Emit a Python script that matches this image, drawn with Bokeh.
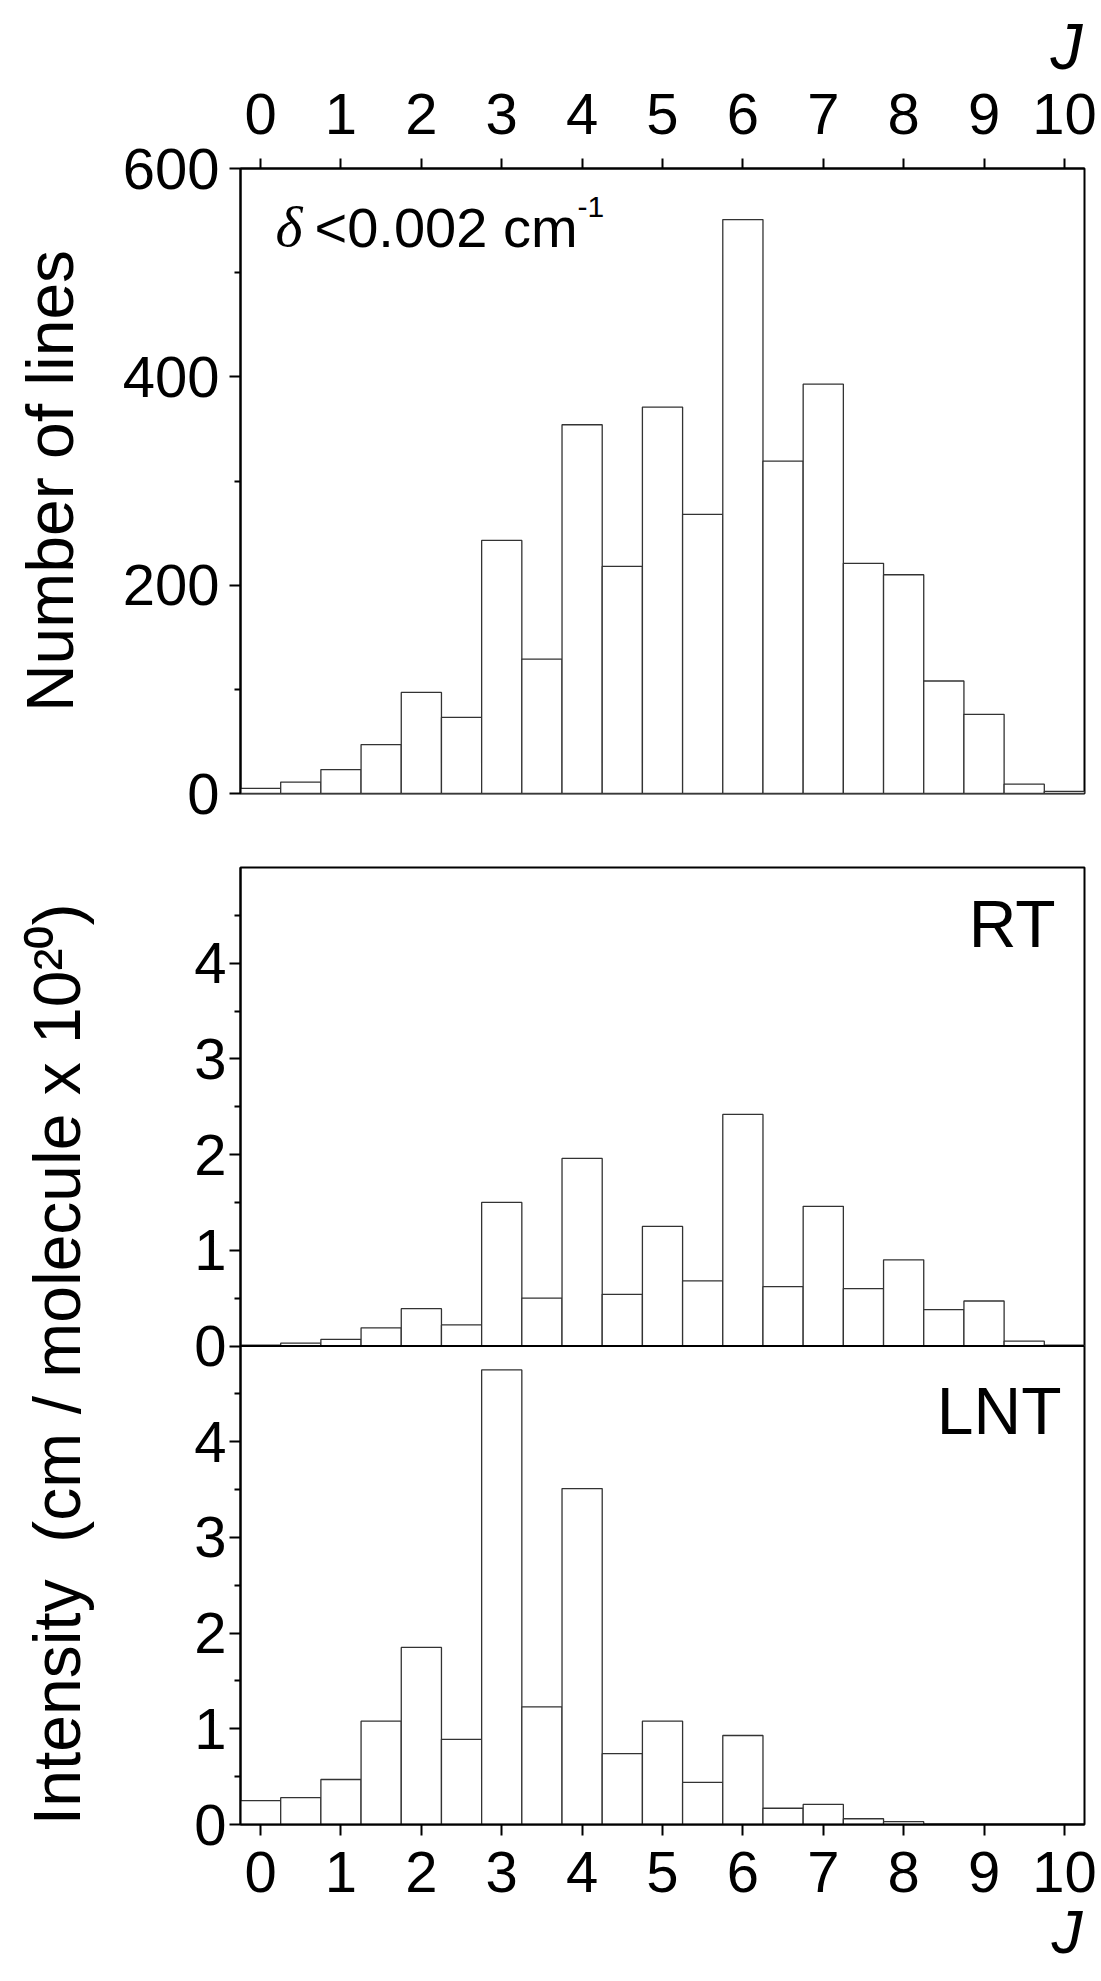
from bokeh.plotting import figure
from bokeh.models import Range1d, FixedTicker, Label, Span
from bokeh.layouts import column
from bokeh.embed import file_html
from bokeh.resources import INLINE

# ---------------- data ----------------
J_centers = [0.0, 0.5, 1.0, 1.5, 2.0, 2.5, 3.0, 3.5, 4.0, 4.5, 5.0,
             5.5, 6.0, 6.5, 7.0, 7.5, 8.0, 8.5, 9.0, 9.5, 10.0]
J_ticks = [0, 1, 2, 3, 4, 5, 6, 7, 8, 9, 10]
n_lines = [5, 11, 23, 47, 97, 73, 243, 129, 354, 218, 371,
           268, 551, 319, 393, 221, 210, 108, 76, 9, 2]
rt_intensity = [0.01, 0.03, 0.07, 0.19, 0.39, 0.22, 1.50, 0.50, 1.96, 0.54, 1.25,
                0.68, 2.42, 0.62, 1.46, 0.60, 0.90, 0.38, 0.47, 0.05, 0.01]
lnt_intensity = [0.25, 0.28, 0.47, 1.08, 1.85, 0.89, 4.75, 1.23, 3.51, 0.74, 1.08,
                 0.44, 0.93, 0.17, 0.21, 0.06, 0.03, 0.0, 0.0, 0.0, 0.0]
lines_ticks = [0, 200, 400, 600]
lines_minor = [100, 300, 500]
int_ticks = [0, 1, 2, 3, 4]
int_minor = [0.5, 1.5, 2.5, 3.5, 4.5]

FONT = "Liberation Sans"
TICK_FS = "58px"
BAR_LINE = "#333333"

# page-pixel helpers (frame: x 240..1084, top panel y 167..793, lower y 867..1824)
def X(px):
    return -0.25 + (px - 240) * 10.5 / 844.0

def Yt(py):
    return (793 - py) * 600.0 / 626.0

def Yl(py):
    return (1824 - py) * 10.0 / 957.0


def style_axis(ax, standoff):
    ax.axis_line_width = 2
    ax.axis_line_color = "black"
    ax.major_tick_line_width = 2
    ax.minor_tick_line_width = 2
    ax.major_tick_line_color = "black"
    ax.minor_tick_line_color = "black"
    ax.major_tick_in = 0
    ax.major_tick_out = 11
    ax.minor_tick_in = 0
    ax.minor_tick_out = 6
    ax.major_label_text_font = FONT
    ax.major_label_text_font_size = TICK_FS
    ax.major_label_text_color = "black"
    ax.major_label_standoff = standoff
    ax.axis_label_text_font = FONT
    ax.axis_label_text_font_style = "normal"
    ax.axis_label_text_font_size = "66px"
    ax.axis_label_text_color = "black"


def base_fig(height, top_b, bottom_b, yr, xloc, title_loc):
    p = figure(width=1100, height=height,
               x_range=Range1d(-0.25, 10.25), y_range=yr,
               x_axis_location=xloc, title="J", title_location=title_loc,
               output_backend="svg", toolbar_location=None,
               min_border_left=240, min_border_right=16,
               min_border_top=top_b, min_border_bottom=bottom_b)
    p.grid.visible = False
    p.outline_line_color = "black"
    p.outline_line_width = 2
    p.background_fill_color = "white"
    p.border_fill_color = "white"
    p.title.align = "right"
    p.title.text_font = FONT
    p.title.text_font_style = "italic"
    p.title.text_color = "black"
    return p

# ---------------- top panel ----------------
top = base_fig(830, 167, 37, Range1d(0, 600), "above", "above")
top.title.text_font_size = "64px"
top.title.standoff = 16
top.title.offset = 2
top.vbar(x=J_centers, width=0.5, bottom=0, top=n_lines,
         fill_color="white", line_color=BAR_LINE, line_width=1.3)

xa = top.xaxis[0]
style_axis(xa, 25)
xa.ticker = FixedTicker(ticks=J_ticks, minor_ticks=[])
xa.major_tick_out = 10

ya = top.yaxis[0]
style_axis(ya, 10)
ya.ticker = FixedTicker(ticks=lines_ticks, minor_ticks=lines_minor)
ya.axis_label = "Number of lines"
ya.axis_label_standoff = 33

top.add_layout(Label(x=X(275), y=Yt(225), text="\u03b4", text_align="left",
                     text_baseline="alphabetic", text_font="Liberation Serif",
                     text_font_style="italic", text_font_size="58px", text_color="black"))
top.add_layout(Label(x=X(314), y=Yt(226), text="<0.002 cm", text_align="left",
                     text_baseline="alphabetic", text_font=FONT,
                     text_font_size="56px", text_color="black"))
top.add_layout(Label(x=X(577), y=Yt(206), text="-1", text_align="left",
                     text_baseline="alphabetic", text_font=FONT,
                     text_font_size="30px", text_color="black"))

# ---------------- lower panels (RT over LNT) ----------------
low = base_fig(1150, 37, 156, Range1d(0, 10), "below", "below")
low.title.text_font_size = "62px"
low.title.standoff = 0
low.title.offset = 2
low.extra_y_ranges = {"rt": Range1d(-5, 5)}

low.vbar(x=J_centers, width=0.5, bottom=0, top=rt_intensity, y_range_name="rt",
         fill_color="white", line_color=BAR_LINE, line_width=1.3)
low.vbar(x=J_centers, width=0.5, bottom=0, top=lnt_intensity,
         fill_color="white", line_color=BAR_LINE, line_width=1.3)
low.add_layout(Span(location=5, dimension="width", line_color="black", line_width=2))

bx = low.xaxis[0]
style_axis(bx, 16)
bx.ticker = FixedTicker(ticks=J_ticks, minor_ticks=[])

ly = low.yaxis[0]
style_axis(ly, 3)
ly.ticker = FixedTicker(ticks=int_ticks + [t + 5 for t in int_ticks],
                        minor_ticks=int_minor + [t + 5 for t in int_minor])
ly.major_label_overrides = {t + 5: str(t) for t in int_ticks}
ly.axis_label = "Intensity\u00a0\u00a0(cm / molecule x 10\u00b2\u2070)\u00a0\u00a0"
ly.axis_label_standoff = 97

low.add_layout(Label(x=X(1055), y=Yl(923), text="RT", text_align="right",
                     text_baseline="alphabetic", text_font=FONT,
                     text_font_size="66px", text_color="black"))
low.add_layout(Label(x=X(1061), y=Yl(1410), text="LNT", text_align="right",
                     text_baseline="alphabetic", text_font=FONT,
                     text_font_size="66px", text_color="black"))

layout = column(top, low)
open("out.html", "w").write(file_html(layout, INLINE))
